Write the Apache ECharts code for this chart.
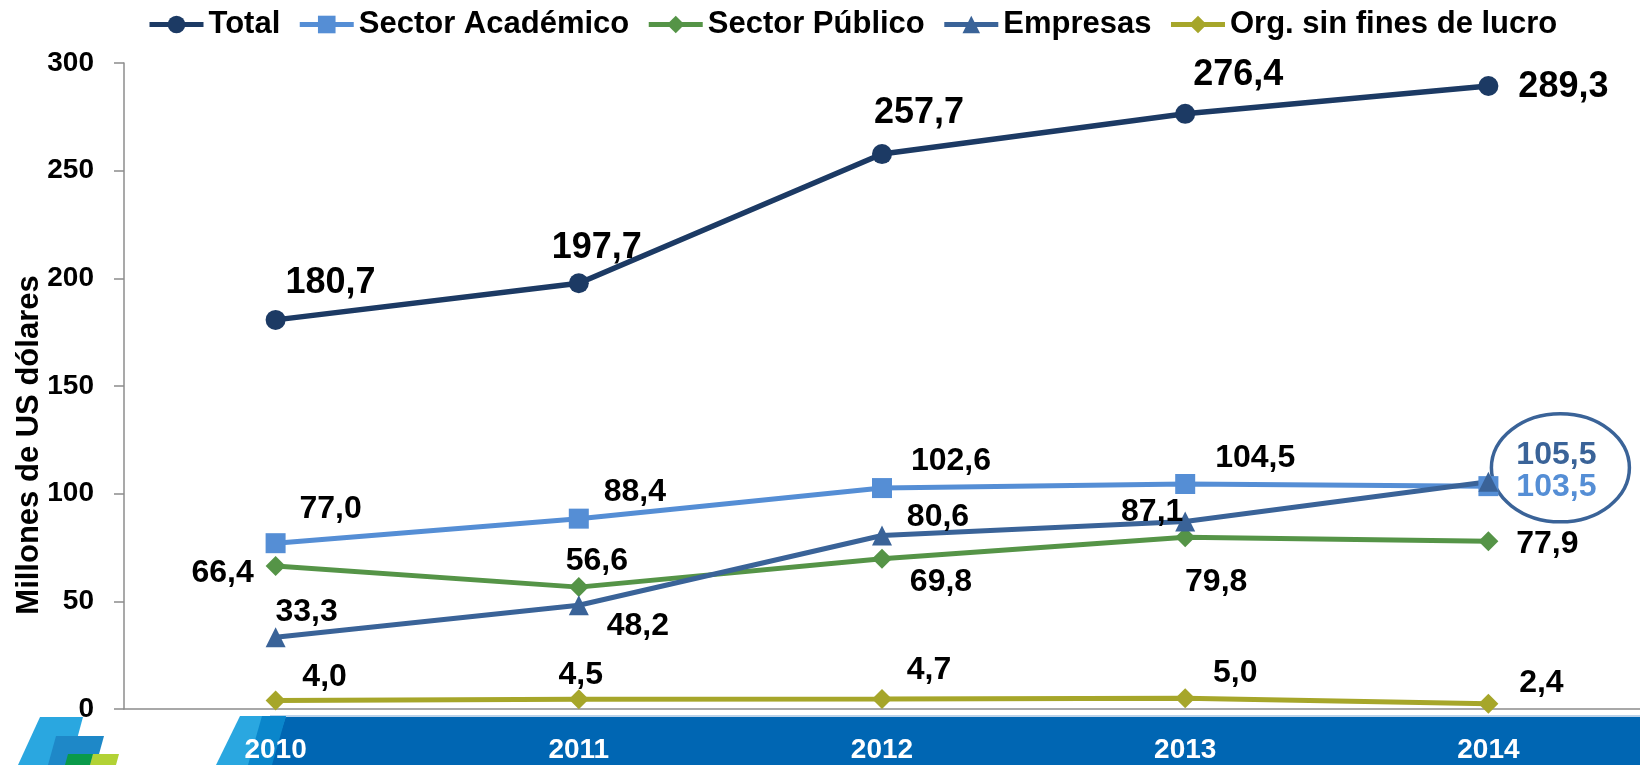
<!DOCTYPE html>
<html>
<head>
<meta charset="utf-8">
<title>Millones de US dólares</title>
<script src="https://cdn.jsdelivr.net/npm/echarts@6/dist/echarts.min.js"></script>
<style>
  html, body { margin: 0; padding: 0; background: #fff; }
  #chart { width: 1640px; height: 765px; }
</style>
</head>
<body>
<div id="chart"></div>
<script>
const years = ['2010', '2011', '2012', '2013', '2014'];
const total = [180.7, 197.7, 257.7, 276.4, 289.3];
const academico = [77.0, 88.4, 102.6, 104.5, 103.5];
const publico = [66.4, 56.6, 69.8, 79.8, 77.9];
const empresas = [33.3, 48.2, 80.6, 87.1, 105.5];
const orgSinFines = [4.0, 4.5, 4.7, 5.0, 2.4];
const yMin = 0, yMax = 300, yStep = 50;

const FONT = '"Liberation Sans", Arial, sans-serif';
const fmt = v => v.toFixed(1).replace('.', ',');

// label placement, one [dx, dy] per point
const totalOffsets = [[55, -37], [18, -35], [37, -41], [53, -39], [75, 1]];
const academicoOffsets = [[55, -34], [56, -26], [69, -27], [70, -26], [68, 1]];
const publicoOffsets = [[-53, 7], [18, -26], [59, 23], [31, 45], [59, 3]];
const empresasOffsets = [[31, -25], [59, 21], [56, -18], [-33, -9], [68, -27]];
const orgOffsets = [[49, -23], [2, -24], [47, -29], [50, -25], [53, -21]];

function lineSeries(name, values, offsets, color, symbol, opts = {}) {
  return {
    name,
    type: 'line',
    data: values.map((v, i) => ({
      value: v,
      label: {
        offset: offsets[i],
        color: (opts.lastColor && i === values.length - 1) ? opts.lastColor : '#000'
      }
    })),
    symbol,
    symbolSize: opts.symbolSize || 20,
    lineStyle: { color, width: opts.width || 5 },
    itemStyle: { color },
    label: {
      show: true,
      position: 'inside',
      fontFamily: FONT,
      fontWeight: 'bold',
      fontSize: opts.fontSize || 32,
      formatter: p => fmt(p.value)
    },
    animation: false
  };
}

const chart = echarts.init(document.getElementById('chart'));
chart.setOption({
  backgroundColor: '#fff',
  animation: false,
  legend: {
    top: 4,
    left: 142,
    itemWidth: 54,
    itemHeight: 22,
    itemGap: 17,
    lineStyle: { width: 5 },
    textStyle: { fontFamily: FONT, fontWeight: 'bold', fontSize: 31, color: '#000' }
  },
  grid: { left: 124, right: -4, top: 63, bottom: 56 },
  xAxis: {
    type: 'category',
    data: years,
    axisLine: { lineStyle: { color: '#8c8c8c', width: 1.5 } },
    axisTick: { length: 8, lineStyle: { color: '#8c8c8c', width: 1.5 } },
    axisLabel: { margin: 27, color: '#fff', fontFamily: FONT, fontWeight: 'bold', fontSize: 28 }
  },
  yAxis: {
    type: 'value',
    min: yMin,
    max: yMax,
    interval: yStep,
    splitLine: { show: false },
    axisLine: { show: true, lineStyle: { color: '#8c8c8c', width: 1.5 } },
    axisTick: { show: true, length: 10, lineStyle: { color: '#8c8c8c', width: 1.5 } },
    axisLabel: { margin: 30, color: '#000', fontFamily: FONT, fontWeight: 'bold', fontSize: 28 }
  },
  series: [
    lineSeries('Total', total, totalOffsets, '#1c3a64', 'circle', { width: 5.5, fontSize: 36 }),
    lineSeries('Sector Académico', academico, academicoOffsets, '#558ed5', 'rect', { lastColor: '#558ed5' }),
    lineSeries('Sector Público', publico, publicoOffsets, '#559447', 'diamond'),
    lineSeries('Empresas', empresas, empresasOffsets, '#3a6398', 'triangle', { lastColor: '#3a6398' }),
    lineSeries('Org. sin fines de lucro', orgSinFines, orgOffsets, '#a6a62a', 'diamond')
  ]
});

// decorations: bottom band, logo, y title and the circled 2014 values
const last = years.length - 1;
const circ = chart.convertToPixel({ seriesIndex: 3 }, [last, empresas[last]]);
chart.setOption({
  graphic: [
    { type: 'rect', z: -1, silent: true, shape: { x: 270, y: 716, width: 1380, height: 49 },
      style: { fill: '#0066b3' } },
    { type: 'rect', z: -1, silent: true, shape: { x: 270, y: 715, width: 1380, height: 2 },
      style: { fill: '#bcd3ea' } },
    { type: 'polygon', z: -1, silent: true, shape: { points: [[240, 716], [286, 716], [270, 765], [216, 765]] },
      style: { fill: '#2aa7e0' } },
    { type: 'polygon', z: -1, silent: true, shape: { points: [[262, 716], [286, 716], [272, 765], [248, 765]] },
      style: { fill: '#0a86cb' } },
    { type: 'polygon', z: -1, silent: true, shape: { points: [[40, 717], [83, 717], [70, 765], [18, 765]] },
      style: { fill: '#2aa7e0' } },
    { type: 'polygon', z: -1, silent: true, shape: { points: [[56, 736], [104, 736], [96, 765], [48, 765]] },
      style: { fill: '#1e88c8' } },
    { type: 'polygon', z: -1, silent: true, shape: { points: [[68, 754], [93, 754], [90, 765], [65, 765]] },
      style: { fill: '#0a9a4a' } },
    { type: 'polygon', z: -1, silent: true, shape: { points: [[93, 754], [119, 754], [116, 765], [90, 765]] },
      style: { fill: '#b2d235' } },
    { type: 'text', x: 29, y: 445, rotation: Math.PI / 2, silent: true,
      style: { text: 'Millones de US dólares', fontFamily: FONT, fontWeight: 'bold', fontSize: 31,
        fill: '#000', align: 'center', verticalAlign: 'middle' } },
    { type: 'ellipse', silent: true, shape: { cx: circ[0] + 72, cy: circ[1] - 14, rx: 69, ry: 54 },
      style: { fill: 'none', stroke: '#3a6398', lineWidth: 3.5 } }
  ]
});

window.addEventListener('resize', () => chart.resize());
</script>
</body>
</html>
